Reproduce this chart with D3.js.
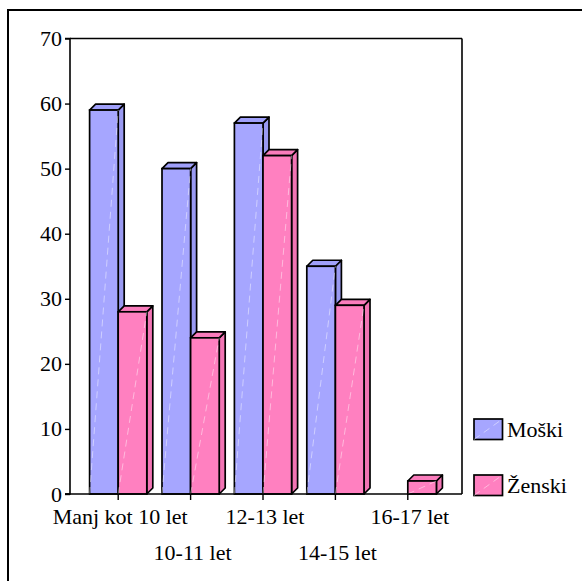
<!DOCTYPE html>
<html><head><meta charset="utf-8">
<script src="https://cdn.jsdelivr.net/npm/d3@7/dist/d3.min.js"></script>
<style>
html,body{margin:0;padding:0;background:#fff;}
svg text{font-family:"Liberation Serif","Times New Roman",serif !important;fill:#000;}
</style></head>
<body>
<script>
const categories = ["Manj kot 10 let","10-11 let","12-13 let","14-15 let","16-17 let"];
const seriesNames = ["Moški","Ženski"];
const moski = [59, 50, 57, 35, 0];
const zenski = [28, 24, 52, 29, 2];
const yTicks = [0,10,20,30,40,50,60,70];

(function(){
const W = 582, H = 581;
const FS = 22;
const svg = d3.select("body").append("svg").attr("width", W).attr("height", H);

svg.append("rect").attr("x", 8).attr("y", 10).attr("width", 600).attr("height", 600)
  .attr("fill", "none").attr("stroke", "#000").attr("stroke-width", 2);

const pL = 70, pR = 462, pT = 38.5, pB = 494;
const y = d3.scaleLinear().domain([0, 70]).range([pB, pT]);
const x0 = d3.scaleBand().domain(categories).range([82, 444]).paddingInner(0.21).paddingOuter(0.105);
const x1 = d3.scaleBand().domain(seriesNames).range([0, x0.bandwidth()]);
const depth = 6;
const sw = 1.7;

const colors = {
  "Moški": {front: "#a6a6ff", side: "#9a9af2", top: "#a0a0fa"},
  "Ženski": {front: "#ff80c0", side: "#f274b4", top: "#fa7cbc"}
};

const g = svg.append("g");
g.append("line").attr("x1", pL).attr("x2", pR).attr("y1", pT).attr("y2", pT).attr("stroke", "#000").attr("stroke-width", 1.6);
g.append("line").attr("x1", pR).attr("x2", pR).attr("y1", pT).attr("y2", pB).attr("stroke", "#000").attr("stroke-width", 1.6);

const data = [];
categories.forEach((c, i) => {
  data.push({cat: c, s: "Moški", v: moski[i]});
  data.push({cat: c, s: "Ženski", v: zenski[i]});
});
const bars = g.selectAll("g.bar").data(data.filter(d => d.v > 0)).join("g").attr("class", "bar");
bars.each(function(d) {
  const sel = d3.select(this);
  const xa = x0(d.cat) + x1(d.s), xb = xa + x1.bandwidth();
  const yt = y(d.v), c = colors[d.s];
  sel.append("path")
    .attr("d", `M${xb},${yt} L${xb+depth},${yt-depth} L${xb+depth},${pB-depth} L${xb},${pB} Z`)
    .attr("fill", c.side).attr("stroke", "#000").attr("stroke-width", sw).attr("stroke-linejoin", "round");
  sel.append("path")
    .attr("d", `M${xa},${yt} L${xa+depth},${yt-depth} L${xb+depth},${yt-depth} L${xb},${yt} Z`)
    .attr("fill", c.top).attr("stroke", "#000").attr("stroke-width", sw).attr("stroke-linejoin", "round");
  sel.append("rect").attr("x", xa).attr("y", yt).attr("width", xb - xa).attr("height", pB - yt)
    .attr("fill", c.front).attr("stroke", "#000").attr("stroke-width", sw);
  sel.append("line").attr("x1", xa).attr("y1", pB).attr("x2", xb).attr("y2", yt)
    .attr("stroke", "#fff").attr("stroke-opacity", 0.45).attr("stroke-width", 1).attr("stroke-dasharray", "7,5");
});

const yAxis = d3.axisLeft(y).tickValues(yTicks).tickSize(5).tickPadding(3).tickFormat(d3.format("d"));
const ya = svg.append("g").attr("transform", `translate(${pL},0)`).call(yAxis)
  .attr("font-family", "Liberation Serif").attr("font-size", FS);
ya.select(".domain").attr("stroke", "#000").attr("stroke-width", 1.6).attr("d", `M-5,${pT}H0V${pB}H-5`);
ya.selectAll(".tick line").attr("stroke", "#000").attr("stroke-width", 1.4);
ya.selectAll(".tick text").attr("font-size", FS).attr("fill", "#000");

svg.append("line").attr("x1", pL - 5).attr("x2", pR).attr("y1", pB).attr("y2", pB).attr("stroke", "#000").attr("stroke-width", 1.6);
const xAxis = d3.axisBottom(x0).tickSize(6).tickFormat("");
const xa = svg.append("g").attr("transform", `translate(0,${pB})`).call(xAxis)
  .attr("font-family", "Liberation Serif").attr("font-size", FS);
xa.select(".domain").remove();
xa.selectAll(".tick line").attr("stroke", "#000").attr("stroke-width", 1.4);
xa.selectAll(".tick").append("text")
  .attr("x", 2)
  .attr("y", (d, i) => i % 2 === 0 ? 22.7 : 58.7)
  .attr("dy", "0.35em")
  .attr("text-anchor", "middle")
  .attr("font-size", FS).attr("fill", "#000")
  .text(d => d);

const legY = [419, 475];
const leg = svg.selectAll("g.leg").data(seriesNames).join("g").attr("class", "leg")
  .attr("transform", (d, i) => `translate(474,${legY[i]})`);
leg.append("rect").attr("width", 28.5).attr("height", 20.5)
  .attr("fill", d => colors[d].front).attr("stroke", "#000").attr("stroke-width", sw);
leg.append("line").attr("x1", 0).attr("y1", 20.5).attr("x2", 28.5).attr("y2", 0)
  .attr("stroke", "#fff").attr("stroke-opacity", 0.45).attr("stroke-dasharray", "7,5");
leg.append("text").attr("x", 33).attr("y", 10.5).attr("dy", "0.35em")
  .attr("font-size", FS).text(d => d);
})();
</script>
</body></html>
